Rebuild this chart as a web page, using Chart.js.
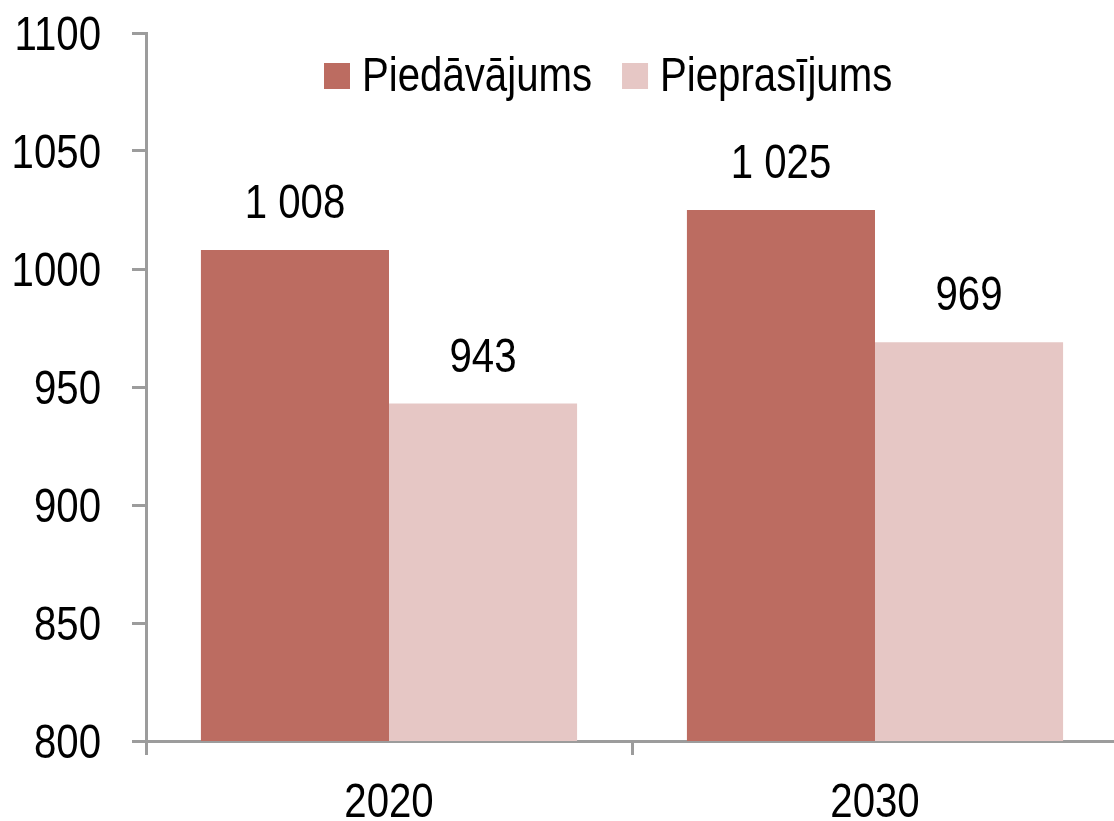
<!DOCTYPE html>
<html>
<head>
<meta charset="utf-8">
<script src="https://cdn.jsdelivr.net/npm/chart.js@4"></script>
<style>
html,body{margin:0;padding:0;overflow:hidden;background:#fff;}
canvas{display:block;}
</style>
</head>
<body>
<canvas id="c" width="1122" height="821"></canvas>
<script>
const categories = ['2020', '2030'];
const supply = [1008, 1025];   // Piedāvājums
const demand = [943, 969];     // Pieprasījums
const seriesNames = ['Piedāvājums', 'Pieprasījums'];
const yTicks = [800, 850, 900, 950, 1000, 1050, 1100];

const FONT = '"Liberation Sans", Arial, sans-serif';
const NARROW = 0.82;   // Arial Narrow look: horizontally condensed text
const SIZE = 49;
const DARK = '#BC6C61';
const LIGHT = '#E6C7C5';
const AXIS = '#9C9C9C';

function fmt(n){ return String(n).replace(/\B(?=(\d{3})+(?!\d))/g, ' '); }

function narrowText(ctx, text, x, y, align){
  ctx.save();
  ctx.font = SIZE + 'px ' + FONT;
  ctx.fillStyle = '#000';
  ctx.textAlign = align;
  ctx.textBaseline = 'alphabetic';
  ctx.translate(x, y);
  ctx.scale(NARROW, 1);
  ctx.fillText(text, 0, 0);
  const w = ctx.measureText(text).width * NARROW;
  ctx.restore();
  return w;
}

const textPlugin = {
  id: 'narrowTexts',
  afterDraw(chart, args, opts){
    const ctx = chart.ctx;
    const ys = chart.scales.y, xs = chart.scales.x;
    yTicks.forEach(v => {
      narrowText(ctx, String(v), opts.yLabelRight, ys.getPixelForValue(v) + 17, 'right');
    });
    categories.forEach((c, i) => {
      narrowText(ctx, c, xs.getPixelForValue(i), opts.xLabelBaseline, 'center');
    });
    chart.data.datasets.forEach((ds, i) => {
      chart.getDatasetMeta(i).data.forEach((bar, j) => {
        narrowText(ctx, fmt(ds.data[j]), bar.x, bar.y - opts.valueGap, 'center');
      });
    });
    let x = opts.legendX;
    chart.data.datasets.forEach(ds => {
      ctx.fillStyle = ds.backgroundColor;
      ctx.fillRect(x, opts.legendBoxY, opts.legendBox, opts.legendBox);
      x += opts.legendBox + opts.legendBoxGap;
      const w = narrowText(ctx, ds.label, x, opts.legendBaseline, 'left');
      x += w + opts.legendItemGap;
    });
  }
};

new Chart(document.getElementById('c'), {
  type: 'bar',
  data: {
    labels: categories,
    datasets: [
      { label: seriesNames[0], data: supply, backgroundColor: DARK, borderWidth: 0 },
      { label: seriesNames[1], data: demand, backgroundColor: LIGHT, borderWidth: 0 }
    ]
  },
  options: {
    responsive: false,
    animation: false,
    devicePixelRatio: 1,
    layout: { padding: { top: 33, left: 0, right: 4, bottom: 0 } },
    datasets: { bar: { categoryPercentage: 0.774, barPercentage: 1.0 } },
    plugins: {
      legend: { display: false },
      tooltip: { enabled: false },
      narrowTexts: {
        yLabelRight: 101, xLabelBaseline: 817, valueGap: 32,
        legendX: 324, legendBoxY: 63, legendBox: 26, legendBoxGap: 12, legendItemGap: 30, legendBaseline: 91
      }
    },
    scales: {
      x: {
        grid: { display: true, drawOnChartArea: false, drawTicks: true, tickLength: 14, color: AXIS, lineWidth: 3, offset: true },
        border: { display: true, color: AXIS, width: 3 },
        ticks: { display: false },
        afterFit(s){ s.height = 80; }
      },
      y: {
        min: 800, max: 1100,
        afterBuildTicks(s){ s.ticks = yTicks.map(v => ({ value: v })); },
        grid: { display: true, drawOnChartArea: false, drawTicks: true, tickLength: 14, color: AXIS, lineWidth: 3 },
        border: { display: true, color: AXIS, width: 3 },
        ticks: { display: false },
        afterFit(s){ s.width = 146; }
      }
    }
  },
  plugins: [textPlugin]
});
</script>
</body>
</html>
